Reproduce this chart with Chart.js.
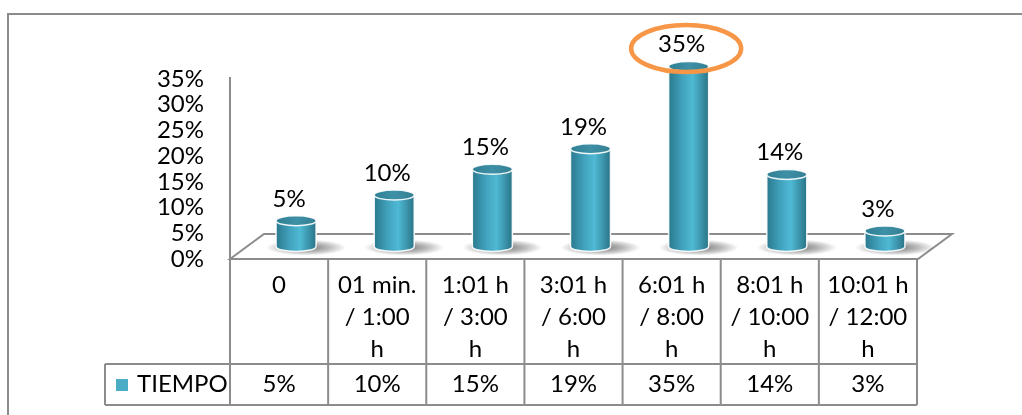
<!DOCTYPE html>
<html>
<head>
<meta charset="utf-8">
<title>TIEMPO</title>
<script src="https://cdn.jsdelivr.net/npm/chart.js@4.4.1/dist/chart.umd.min.js"></script>
<style>
  html, body { margin: 0; padding: 0; background: #fff; }
  #chart { display: block; }
</style>
</head>
<body>
<canvas id="chart" width="1022" height="415"></canvas>
<script>
// Time ranges, one column of the data table each (already broken into lines)
const categories = [
  ['0'],
  ['01 min.', '/ 1:00', 'h'],
  ['1:01 h', '/ 3:00', 'h'],
  ['3:01 h', '/ 6:00', 'h'],
  ['6:01 h', '/ 8:00', 'h'],
  ['8:01 h', '/ 10:00', 'h'],
  ['10:01 h', '/ 12:00', 'h']
];
const tiempo = [5, 10, 15, 19, 35, 14, 3];
const yTicks = [0, 5, 10, 15, 20, 25, 30, 35];
const seriesName = 'TIEMPO';

const FONT = '24px Lato';
const LINE = '#8c8c8c';
const SERIES_COLOR = '#4BACC6';
const DEPTH_X = 34, DEPTH_Y = -25;   // 3D floor depth
const CAT_ROW = 105, VAL_ROW = 41;   // data table row heights
const LEGEND_LEFT = 105;

Chart.defaults.font.family = 'Lato';

function drawCylinder(ctx, cx, top, base, rx, ry) {
    // soft shadow on the floor
    ctx.save();
    ctx.translate(cx + 10, base + 1);
    ctx.scale(1, 0.2);
    const sh = ctx.createRadialGradient(0, 0, 0, 0, 0, 40);
    sh.addColorStop(0, 'rgba(0,0,0,0.55)');
    sh.addColorStop(0.6, 'rgba(0,0,0,0.25)');
    sh.addColorStop(1, 'rgba(0,0,0,0)');
    ctx.fillStyle = sh;
    ctx.beginPath();
    ctx.arc(0, 0, 40, 0, Math.PI * 2);
    ctx.fill();
    ctx.restore();

    // body
    const g = ctx.createLinearGradient(cx - rx, 0, cx + rx, 0);
    g.addColorStop(0, '#2a798d');
    g.addColorStop(0.35, '#42a3be');
    g.addColorStop(0.6, '#4fb9d4');
    g.addColorStop(1, '#2a7487');
    ctx.save();
    ctx.beginPath();
    ctx.moveTo(cx - rx, top);
    ctx.lineTo(cx - rx, base);
    ctx.ellipse(cx, base, rx, ry, 0, Math.PI, 0, true);
    ctx.lineTo(cx + rx, top);
    ctx.closePath();
    ctx.fillStyle = g;
    ctx.fill();
    ctx.strokeStyle = 'rgba(255,255,255,0.9)';
    ctx.lineWidth = 1.5;
    ctx.stroke();

    // lid
    const t = ctx.createLinearGradient(cx - rx, 0, cx + rx, 0);
    t.addColorStop(0, '#2f7f93');
    t.addColorStop(0.5, '#3e90a6');
    t.addColorStop(1, '#357f92');
    ctx.beginPath();
    ctx.ellipse(cx, top, rx, ry, 0, 0, Math.PI * 2);
    ctx.fillStyle = t;
    ctx.fill();
    ctx.stroke();
    ctx.restore();
}

const frame = {
    id: 'frame',
    beforeDraw(chart) {
        const ctx = chart.ctx;
        ctx.save();
        ctx.strokeStyle = LINE;
        ctx.lineWidth = 2;
        ctx.strokeRect(8, 14, 1100, 500);
        ctx.restore();
    }
};

const cylinders = {
    id: 'cylinders',
    beforeDatasetsDraw(chart) {
        const {ctx, chartArea: a} = chart;
        // floor
        ctx.save();
        ctx.beginPath();
        ctx.moveTo(a.left, a.bottom);
        ctx.lineTo(a.left + DEPTH_X, a.bottom + DEPTH_Y);
        ctx.lineTo(a.right + 1 + DEPTH_X, a.bottom + DEPTH_Y);
        ctx.lineTo(a.right + 1, a.bottom);
        ctx.closePath();
        ctx.fillStyle = '#fff';
        ctx.fill();
        ctx.strokeStyle = LINE;
        ctx.lineWidth = 2;
        ctx.stroke();
        ctx.restore();
    },
    afterDatasetsDraw(chart) {
        const ctx = chart.ctx;
        const meta = chart.getDatasetMeta(0);
        const zero = chart.scales.y.getPixelForValue(0);
        const maxVal = Math.max(...tiempo);
        meta.data.forEach((bar, i) => {
            const cx = bar.x + DEPTH_X / 2;
            const base = zero + DEPTH_Y / 2;
            const top = bar.y + DEPTH_Y / 2;
            drawCylinder(ctx, cx, top, base, 20, 5);

            const lx = cx - 7, ly = top - 22;
            ctx.save();
            ctx.font = FONT;
            ctx.fillStyle = '#000';
            ctx.textAlign = 'center';
            ctx.textBaseline = 'middle';
            ctx.fillText(tiempo[i] + '%', lx, ly);
            if (tiempo[i] === maxVal) {
                // highlight ring around the peak value
                ctx.beginPath();
                ctx.ellipse(lx + 4.5, ly + 4, 55, 23.5, 0, 0, Math.PI * 2);
                ctx.strokeStyle = '#F79646';
                ctx.lineWidth = 4.5;
                ctx.stroke();
            }
            ctx.restore();
        });
    }
};

const dataTable = {
    id: 'dataTable',
    afterDraw(chart) {
        const {ctx, chartArea: a} = chart;
        const x = chart.scales.x;
        const rowMid = a.bottom + CAT_ROW;
        const rowEnd = rowMid + VAL_ROW;
        ctx.save();
        ctx.strokeStyle = LINE;
        ctx.lineWidth = 2;
        ctx.beginPath();
        // value axis line, carried down through the table
        ctx.moveTo(a.left, a.top - 2);
        ctx.lineTo(a.left, rowEnd);
        for (let i = 1; i <= categories.length; i++) {
            const px = x.getPixelForValue(i - 0.5);
            ctx.moveTo(px, a.bottom);
            ctx.lineTo(px, rowEnd);
        }
        ctx.moveTo(a.left, a.bottom);
        ctx.lineTo(a.right, a.bottom);
        ctx.moveTo(LEGEND_LEFT, rowMid);
        ctx.lineTo(a.right, rowMid);
        ctx.moveTo(LEGEND_LEFT, rowEnd);
        ctx.lineTo(a.right, rowEnd);
        ctx.moveTo(LEGEND_LEFT, rowMid);
        ctx.lineTo(LEGEND_LEFT, rowEnd);
        ctx.stroke();

        ctx.font = FONT;
        ctx.fillStyle = '#000';
        ctx.textAlign = 'center';
        ctx.textBaseline = 'middle';
        categories.forEach((lines, i) => {
            const cx = x.getPixelForValue(i);
            lines.forEach((s, k) => ctx.fillText(s, cx, a.bottom + 26 + k * 32));
            ctx.fillText(tiempo[i] + '%', cx, (rowMid + rowEnd) / 2);
        });

        // legend key in the first cell
        ctx.fillStyle = SERIES_COLOR;
        ctx.fillRect(116, rowMid + 15, 12, 12);
        ctx.fillStyle = '#000';
        ctx.textAlign = 'left';
        ctx.fillText(seriesName, 137, (rowMid + rowEnd) / 2);
        ctx.restore();
    }
};

new Chart(document.getElementById('chart'), {
    type: 'bar',
    data: {
        labels: categories,
        datasets: [{
            label: seriesName,
            data: tiempo,
            backgroundColor: 'rgba(0,0,0,0)',
            borderWidth: 0
        }]
    },
    options: {
        responsive: false,
        animation: false,
        layout: { padding: { left: 0, top: 79, right: 105, bottom: 156 } },
        plugins: {
            legend: { display: false },
            tooltip: { enabled: false }
        },
        scales: {
            x: { display: false },
            y: {
                min: 0,
                max: 35,
                afterBuildTicks: s => { s.ticks = yTicks.map(v => ({ value: v })); },
                afterFit: s => { s.width = 230; },
                grid: { display: false, drawTicks: false },
                border: { display: false },
                ticks: {
                    autoSkip: false,
                    padding: 26,
                    color: '#000',
                    font: { family: 'Lato', size: 24 },
                    callback: v => v + '%'
                }
            }
        }
    },
    plugins: [frame, cylinders, dataTable]
});
</script>
</body>
</html>
